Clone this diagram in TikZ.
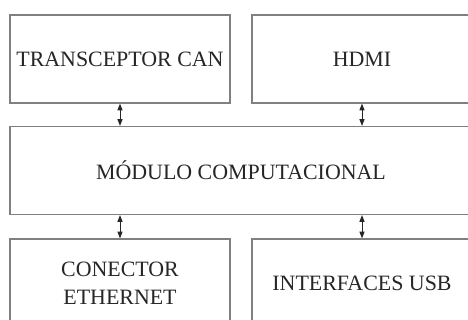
\documentclass[tikz,border=0pt]{standalone}
\usepackage{fontspec}
\setmainfont{Liberation Serif}
\usetikzlibrary{arrows.meta}

\begin{document}
\begin{tikzpicture}
      [x=0.03cm, y=-0.03cm,
       blockBox/.style={rectangle, draw=black!50, line width=1.1pt, fill=white,
         minimum width=6.6cm, minimum height=2.64cm, align=center,
         text=black!85, font=\fontsize{18.7}{24}\selectfont},
       linkArrow/.style={{Triangle[length=0.2cm,width=0.15cm]}-{Triangle[length=0.2cm,width=0.15cm]},
         line width=0.8pt, black!85}]
      \clip (0,0) rectangle (468,320);
      \fill[white] (0,0) rectangle (468,320);

      \node[blockBox] (can) at (120,59) {TRANSCEPTOR CAN};
      \node[blockBox] (hdmi) at (362,59) {HDMI};
      \node[blockBox, minimum width=13.86cm] (comp) at (241,170.5) {MÓDULO COMPUTACIONAL};
      \node[blockBox] (eth) at (120,283) {CONECTOR\\ETHERNET};
      \node[blockBox] (usb) at (362,283) {INTERFACES USB};

      \foreach \from/\to in {can/comp,hdmi/comp}
      \draw[linkArrow] (\from.south) -- (\from.south |- \to.north);

      \foreach \from/\to in {eth/comp,usb/comp}
      % links below the module
      \draw[linkArrow] (\from.north) -- (\from.north |- \to.south);
    \end{tikzpicture}
\end{document}
